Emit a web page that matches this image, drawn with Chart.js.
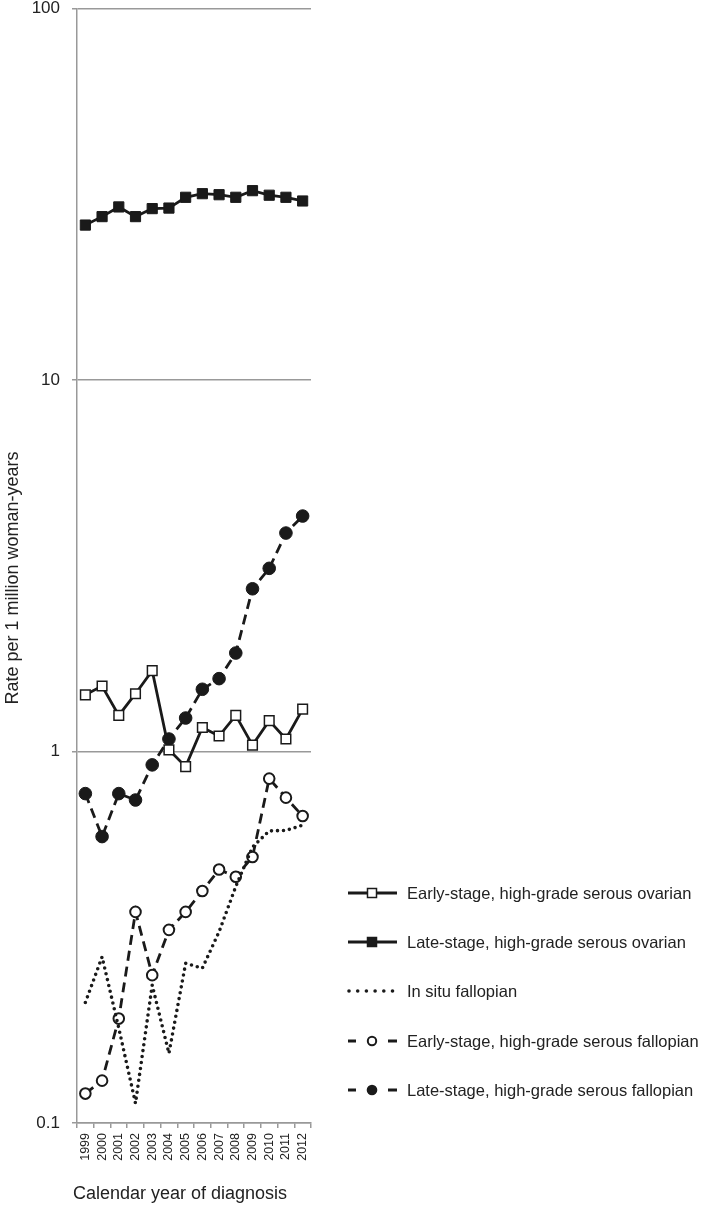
<!DOCTYPE html>
<html>
<head>
<meta charset="utf-8">
<script src="https://cdn.jsdelivr.net/npm/chart.js@4/dist/chart.umd.min.js"></script>
<style>
  html, body { margin: 0; padding: 0; background: #fff; }
  #wrap { width: 701px; height: 1207px; position: relative; }
</style>
</head>
<body>
<div id="wrap"><canvas id="rateChart"></canvas></div>
<script>
// values (rate per 1 million woman-years)
const years = ['1999', '2000', '2001', '2002', '2003', '2004', '2005', '2006', '2007', '2008', '2009', '2010', '2011', '2012'];
const earlyOvarian = [1.42, 1.50, 1.25, 1.43, 1.65, 1.01, 0.91, 1.16, 1.10, 1.25, 1.04, 1.21, 1.08, 1.30];
const lateOvarian = [26.1, 27.5, 29.2, 27.5, 28.9, 29.0, 31.0, 31.7, 31.5, 31.0, 32.3, 31.4, 31.0, 30.3];
const inSituFallopian = [0.211, 0.280, 0.180, 0.113, 0.235, 0.154, 0.269, 0.261, 0.327, 0.433, 0.553, 0.611, 0.613, 0.633];
const earlyFallopian = [0.120, 0.130, 0.191, 0.370, 0.250, 0.331, 0.370, 0.421, 0.481, 0.460, 0.520, 0.845, 0.751, 0.670];
const lateFallopian = [0.77, 0.59, 0.77, 0.74, 0.92, 1.08, 1.23, 1.47, 1.57, 1.84, 2.74, 3.11, 3.87, 4.30];
const yTicks = [0.1, 1, 10, 100];

const INK = '#1a1a1a';
const GRID = '#999';
const FONT = '"Liberation Sans", Arial, sans-serif';

const datasets = [
  {
    label: 'Early-stage, high-grade serous ovarian',
    data: earlyOvarian,
    borderColor: INK, borderWidth: 2.8, tension: 0,
    pointStyle: 'rect', pointRadius: 6.8, pointBorderWidth: 1.5,
    pointBackgroundColor: '#fff', pointBorderColor: INK,
    legendMark: 'square-open',
  },
  {
    label: 'Late-stage, high-grade serous ovarian',
    data: lateOvarian,
    borderColor: INK, borderWidth: 2.8, tension: 0,
    pointStyle: 'rect', pointRadius: 7.2, pointBorderWidth: 1,
    pointBackgroundColor: INK, pointBorderColor: INK,
    legendMark: 'square-filled',
  },
  {
    label: 'In situ fallopian',
    data: inSituFallopian,
    borderColor: INK, borderWidth: 3.6, tension: 0,
    borderDash: [0, 6], borderCapStyle: 'round',
    pointRadius: 0,
    legendMark: 'dots',
  },
  {
    label: 'Early-stage, high-grade serous fallopian',
    data: earlyFallopian,
    borderColor: INK, borderWidth: 2.8, tension: 0,
    borderDash: [10, 6],
    pointStyle: 'circle', pointRadius: 5.3, pointBorderWidth: 2,
    pointBackgroundColor: '#fff', pointBorderColor: INK,
    legendMark: 'circle-open',
  },
  {
    label: 'Late-stage, high-grade serous fallopian',
    data: lateFallopian,
    borderColor: INK, borderWidth: 2.8, tension: 0,
    borderDash: [10, 6],
    pointStyle: 'circle', pointRadius: 6.3, pointBorderWidth: 1,
    pointBackgroundColor: INK, pointBorderColor: INK,
    legendMark: 'circle-filled',
  },
];

// axis titles and the legend on the right
const annotations = {
  id: 'annotations',
  afterDraw(chart) {
    const ctx = chart.ctx;
    ctx.save();
    ctx.fillStyle = '#222';
    ctx.font = '18px ' + FONT;
    ctx.textAlign = 'center';
    ctx.textBaseline = 'middle';
    ctx.save();
    ctx.translate(13, 578);
    ctx.rotate(-Math.PI / 2);
    ctx.fillText('Rate per 1 million woman-years', 0, 0);
    ctx.restore();
    ctx.fillText('Calendar year of diagnosis', 180, 1194);

    const rows = [893, 942, 991, 1041, 1090];
    chart.data.datasets.forEach((ds, i) => {
      const y = rows[i];
      ctx.strokeStyle = INK;
      ctx.fillStyle = INK;
      ctx.lineWidth = 2.8;
      ctx.setLineDash([]);
      ctx.lineCap = 'butt';
      const mark = ds.legendMark;
      if (mark === 'square-open' || mark === 'square-filled') {
        ctx.beginPath();
        ctx.moveTo(348, y); ctx.lineTo(397, y);
        ctx.stroke();
        ctx.lineWidth = 1.5;
        ctx.fillStyle = mark === 'square-open' ? '#fff' : INK;
        ctx.fillRect(367.5, y - 4.5, 9, 9);
        ctx.strokeRect(367.5, y - 4.5, 9, 9);
      } else if (mark === 'dots') {
        for (let k = 0; k < 6; k++) {
          ctx.beginPath();
          ctx.arc(349 + k * 8.7, y, 1.8, 0, Math.PI * 2);
          ctx.fill();
        }
      } else {
        ctx.beginPath();
        ctx.moveTo(348, y); ctx.lineTo(356, y);
        ctx.moveTo(388, y); ctx.lineTo(397, y);
        ctx.stroke();
        ctx.beginPath();
        ctx.arc(372, y, mark === 'circle-open' ? 4.2 : 5.3, 0, Math.PI * 2);
        if (mark === 'circle-open') {
          ctx.fillStyle = '#fff';
          ctx.fill();
          ctx.lineWidth = 2;
          ctx.stroke();
        } else {
          ctx.fill();
        }
      }
      ctx.fillStyle = '#222';
      ctx.font = '16.5px ' + FONT;
      ctx.textAlign = 'left';
      ctx.fillText(ds.label, 407, y + 1);
    });
    ctx.restore();
  },
};

new Chart(document.getElementById('rateChart'), {
  type: 'line',
  data: { labels: years, datasets: datasets },
  options: {
    responsive: true,
    maintainAspectRatio: false,
    animation: false,
    layout: { padding: { top: 6, right: 390, left: 0, bottom: 0 } },
    plugins: { legend: { display: false }, tooltip: { enabled: false } },
    scales: {
      x: {
        type: 'category',
        offset: true,
        grid: { display: true, offset: true, drawOnChartArea: false, color: GRID, tickLength: 5, lineWidth: 1.5 },
        border: { color: GRID, width: 1.5 },
        ticks: {
          autoSkip: false, maxRotation: 90, minRotation: 90, padding: 5,
          color: '#222', font: { family: FONT, size: 12.5 },
        },
        afterFit(scale) {
          scale.height = 84;
          scale.paddingLeft = 0;
          scale.paddingRight = 0;
        },
      },
      y: {
        type: 'logarithmic',
        min: 0.1,
        max: 100,
        grid: { color: GRID, lineWidth: 1.5, tickLength: 5 },
        border: { color: GRID, width: 1.5 },
        ticks: {
          padding: 12, color: '#222', font: { family: FONT, size: 17 },
          callback: (v) => String(v),
        },
        afterBuildTicks(axis) {
          axis.ticks = yTicks.map((v) => ({ value: v, major: true }));
        },
        afterFit(scale) {
          scale.width = 77;
          scale.paddingTop = 0;
          scale.paddingBottom = 0;
        },
      },
    },
  },
  plugins: [annotations],
});
</script>
</body>
</html>
